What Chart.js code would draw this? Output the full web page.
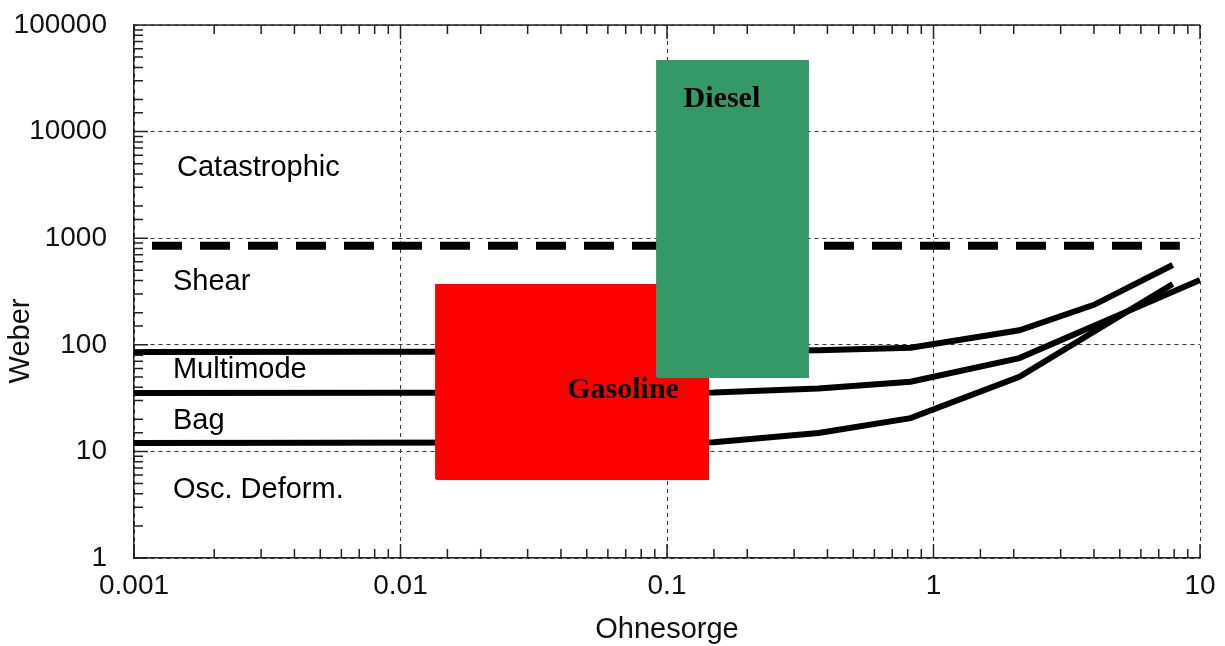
<!DOCTYPE html>
<html>
<head>
<meta charset="utf-8">
<script src="https://cdn.jsdelivr.net/npm/chart.js@4/dist/chart.umd.min.js"></script>
<style>
  html, body { margin: 0; padding: 0; background: #fff; }
  #wrap { width: 1225px; height: 646px; }
</style>
</head>
<body>
<div id="wrap"><canvas id="chart" width="1225" height="646"></canvas></div>
<script>
// tick labels
const xTickLabels = ['0.001', '0.01', '0.1', '1', '10'];
const yTickLabels = ['1', '10', '100', '1000', '10000', '100000'];

// regime boundaries (Ohnesorge, Weber)
const ohLower = [0.001, 0.15, 0.37, 0.82, 2.1, 7.9];
const weLower = [12, 12.2, 14.9, 20.5, 50, 372];
const ohMiddle = [0.001, 0.15, 0.37, 0.82, 2.1, 10];
const weMiddle = [35.3, 35.6, 39, 45, 75, 405];
const ohUpper = [0.001, 0.15, 0.37, 0.82, 2.1, 4, 7.9];
const weUpper = [85.6, 86.5, 89, 94, 137, 237, 560];
const ohCatastrophic = [0.001, 8.4];
const weCatastrophic = [851, 851];

// fuel ranges [ohMin, ohMax], [weMin, weMax]
const gasolineOh = [0.0136, 0.1426];
const gasolineWe = [5.5, 364];
const dieselOh = [0.0918, 0.338];
const dieselWe = [49.9, 45900];

const regimeNames = ['Catastrophic', 'Shear', 'Multimode', 'Bag', 'Osc. Deform.'];
const fuelNames = ['Diesel', 'Gasoline'];

function pts(xs, ys) {
    return xs.map((x, i) => ({ x: x, y: ys[i] }));
}
function rect(xr, yr) {
    return [
        { x: xr[0], y: yr[0] }, { x: xr[1], y: yr[0] },
        { x: xr[1], y: yr[1] }, { x: xr[0], y: yr[1] },
        { x: xr[0], y: yr[0] }
    ];
}
function isDecade(v) {
    const e = Math.log10(v);
    return Math.abs(e - Math.round(e)) < 1e-6;
}

const curveStyle = { borderColor: '#000', borderWidth: 6, pointRadius: 0, fill: false, tension: 0 };

const overlay = {
    id: 'overlay',
    afterDatasetsDraw(chart) {
        const ctx = chart.ctx;
        const xs = chart.scales.x, ys = chart.scales.y;
        ctx.save();
        ctx.fillStyle = '#000';
        ctx.font = '29px "Liberation Sans", Arial, sans-serif';
        ctx.textAlign = 'left';
        ctx.textBaseline = 'middle';
        const regimePos = [[0.00145, 4560], [0.0014, 388], [0.0014, 58], [0.0014, 19.3], [0.0014, 4.34]];
        regimeNames.forEach((t, i) => {
            ctx.fillText(t, xs.getPixelForValue(regimePos[i][0]), ys.getPixelForValue(regimePos[i][1]));
        });
        ctx.font = 'bold 30px "Liberation Serif", "Times New Roman", serif';
        ctx.textAlign = 'center';
        const fuelPos = [[0.1607, 20200], [0.0684, 37.7]];
        fuelNames.forEach((t, i) => {
            ctx.fillText(t, xs.getPixelForValue(fuelPos[i][0]), ys.getPixelForValue(fuelPos[i][1]));
        });
        ctx.restore();
    },
    afterDraw(chart) {
        const ctx = chart.ctx;
        const a = chart.chartArea;
        const xs = chart.scales.x, ys = chart.scales.y;
        ctx.save();
        ctx.strokeStyle = '#222';
        ctx.lineWidth = 1.5;
        ctx.beginPath();
        ctx.moveTo(a.left, a.top);
        ctx.lineTo(a.right, a.top);
        xs.ticks.forEach(t => {
            const px = xs.getPixelForValue(t.value);
            const len = isDecade(t.value) ? 14 : 9;
            ctx.moveTo(px, a.bottom); ctx.lineTo(px, a.bottom - len);
            ctx.moveTo(px, a.top); ctx.lineTo(px, a.top + len);
        });
        ys.ticks.forEach(t => {
            const py = ys.getPixelForValue(t.value);
            const len = isDecade(t.value) ? 14 : 9;
            ctx.moveTo(a.left, py); ctx.lineTo(a.left + len, py);
        });
        ctx.stroke();

        ctx.fillStyle = '#111';
        ctx.font = '29px "Liberation Sans", Arial, sans-serif';
        ctx.textAlign = 'center';
        ctx.textBaseline = 'middle';
        ctx.fillText('Ohnesorge', (a.left + a.right) / 2, 630);
        ctx.translate(21, 341);
        ctx.rotate(-Math.PI / 2);
        ctx.fillText('Weber', 0, 0);
        ctx.restore();
    }
};

new Chart(document.getElementById('chart').getContext('2d'), {
    type: 'line',
    data: {
        datasets: [
            { label: 'Diesel', data: rect(dieselOh, dieselWe), borderColor: '#359867', backgroundColor: '#359867',
              borderWidth: 2, pointRadius: 0, fill: 'shape', order: 0 },
            { label: 'Gasoline', data: rect(gasolineOh, gasolineWe), borderColor: '#ff0000', backgroundColor: '#ff0000',
              borderWidth: 2, pointRadius: 0, fill: 'shape', order: 1 },
            Object.assign({ label: 'Osc/Bag', data: pts(ohLower, weLower), order: 2 }, curveStyle),
            Object.assign({ label: 'Bag/Multimode', data: pts(ohMiddle, weMiddle), order: 2 }, curveStyle),
            Object.assign({ label: 'Multimode/Shear', data: pts(ohUpper, weUpper), order: 2 }, curveStyle),
            { label: 'Shear/Catastrophic', data: pts(ohCatastrophic, weCatastrophic), borderColor: '#000',
              borderWidth: 8, borderDash: [30, 18], borderDashOffset: 30, pointRadius: 0, fill: false, order: 3 }
        ]
    },
    options: {
        responsive: false,
        animation: false,
        events: [],
        layout: { padding: { top: 25, right: 25, left: 0, bottom: 0 } },
        plugins: { legend: { display: false }, tooltip: { enabled: false } },
        scales: {
            x: {
                type: 'logarithmic',
                min: 0.001,
                max: 10,
                afterFit(s) { s.height = 88; s.paddingLeft = 0; s.paddingRight = 0; },
                grid: {
                    drawTicks: false,
                    lineWidth: 1,
                    color: c => (c.tick && isDecade(c.tick.value)) ? '#333' : 'rgba(0,0,0,0)'
                },
                border: { display: true, color: '#222', width: 1.5, dash: [4, 4] },
                ticks: {
                    autoSkip: false,
                    maxRotation: 0,
                    padding: 11,
                    color: '#111',
                    font: { family: '"Liberation Sans", Arial, sans-serif', size: 28 },
                    callback: v => isDecade(v) ? xTickLabels[Math.round(Math.log10(v)) + 3] : ''
                }
            },
            y: {
                type: 'logarithmic',
                min: 1,
                max: 100000,
                afterFit(s) { s.width = 134; s.paddingTop = 0; s.paddingBottom = 0; },
                grid: {
                    drawTicks: false,
                    lineWidth: 1,
                    color: c => (c.tick && isDecade(c.tick.value)) ? '#333' : 'rgba(0,0,0,0)'
                },
                border: { display: true, color: '#222', width: 1.5, dash: [4, 4] },
                ticks: {
                    autoSkip: false,
                    padding: 27,
                    color: '#111',
                    font: { family: '"Liberation Sans", Arial, sans-serif', size: 28 },
                    callback: v => isDecade(v) ? yTickLabels[Math.round(Math.log10(v))] : ''
                }
            }
        }
    },
    plugins: [overlay]
});
</script>
</body>
</html>
